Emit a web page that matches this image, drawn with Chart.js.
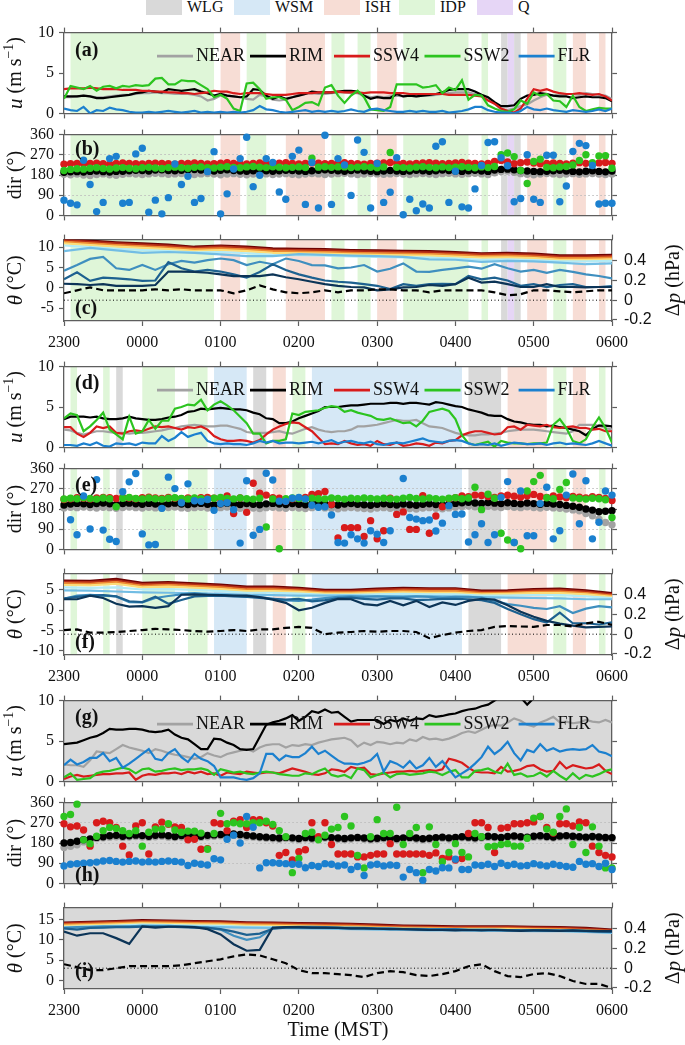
<!DOCTYPE html>
<html>
<head>
<meta charset="utf-8">
<script src="https://cdn.jsdelivr.net/npm/chart.js@4.4.1/dist/chart.umd.min.js"></script>
<style>
html, body { margin: 0; padding: 0; background: #fff; }
#fig { position: relative; width: 685px; height: 1045px; overflow: hidden; font-family: "Liberation Serif", "DejaVu Serif", serif; }
#fig canvas { position: absolute; left: 0; }
.rbox { position: absolute; top: 0; width: 36px; height: 15px; }
.rtxt { position: absolute; top: -1px; font-size: 16px; line-height: 16px; color: #111; }
</style>
</head>
<body>
<div id="fig"></div>
<script>
// sampling of the records (minutes between samples, 2300 = 0)
const STEP_FINE = 5;
const STEP_MID = 10;
const STEP_COARSE = 20;

const hourTicks = [0, 60, 120, 180, 240, 300, 360, 420];
const hourLabels = ['2300', '0000', '0100', '0200', '0300', '0400', '0500', '0600'];
const uTicks = [0, 5, 10];
const dirTicks = [0, 90, 180, 270, 360];
const dirGrid = [90, 180, 270];
const dpTicks = [-0.2, 0, 0.2, 0.4];

const stations = ['NEAR', 'RIM', 'SSW4', 'SSW2', 'FLR'];
const stationColors = ['#a2a2a2', '#000000', '#d81b1b', '#2cc41f', '#1b80cf'];

const regimeNames = ['WLG', 'WSM', 'ISH', 'IDP', 'Q'];
const regimeColors = ['#d9d9d9', '#d6e8f6', '#f7ddd5', '#dff6d8', '#e6d6f6'];

// [start, end, regime] in minutes after 2300
const regimes1 = [[5,115,3],[120,135,2],[140,155,3],[170,200,2],[205,215,3],[225,235,3],[240,255,2],[260,310,3],[320,325,3],[335,340,0],[340,345,4],[345,350,0],[355,370,2],[375,385,3],[390,400,2],[410,415,2]];
const regimes2 = [[5,10,3],[30,35,3],[40,45,0],[60,85,3],[95,110,3],[115,140,1],[145,155,0],[160,170,2],[175,185,3],[190,305,1],[310,335,0],[340,370,2],[375,385,3],[390,400,2],[410,415,3]];
const regimes3 = [[0,420,0]];

// ---------- (a) u, 5-min ----------
const uNearA = [2.0,2.0,2.1,2.2,2.1,2.0,2.0,2.1,2.2,2.3,2.3,2.4,2.5,2.5,2.6,2.5,2.5,2.4,2.4,2.4,2.3,2.1,1.6,1.8,2.2,2.2,2.1,2.0,1.8,1.7,2.3,2.1,1.7,1.6,1.7,2.0,2.3,2.4,2.5,2.4,2.4,2.5,2.6,2.6,2.5,2.5,2.2,2.0,2.1,2.0,2.1,2.2,2.1,2.2,2.1,2.2,2.2,2.3,2.4,2.5,2.6,2.6,2.6,2.4,2.2,1.8,1.2,0.5,0.4,0.6,0.9,1.1,1.6,2.0,2.3,2.2,2.3,2.4,2.4,2.3,2.5,2.4,2.3,2.2,1.8];
const uRimA = [2.1,2.1,2.1,2.2,2.1,1.9,1.9,2.0,2.1,2.2,2.3,2.5,2.6,2.8,2.7,2.6,3.0,2.9,2.8,2.9,3.0,2.7,2.5,2.2,2.4,2.2,2.1,2.0,2.1,3.0,2.9,2.2,1.8,2.1,1.8,2.0,2.2,2.4,2.7,2.6,2.6,2.6,2.7,2.8,2.8,2.7,2.2,1.8,2.0,1.9,1.9,2.4,2.1,2.2,2.1,2.2,2.3,2.4,2.6,2.9,3.0,3.0,3.0,2.7,2.3,2.0,1.4,0.9,0.9,1.0,1.8,2.2,2.3,2.5,2.4,2.2,2.1,2.1,1.9,2.0,2.1,2.0,2.0,1.9,1.5];
const uSsw4A = [3.0,3.1,3.1,3.1,3.2,3.1,3.0,3.0,3.0,2.9,2.9,2.9,2.8,2.8,2.7,2.7,2.6,2.6,2.5,2.5,2.4,2.5,2.6,2.8,2.7,2.7,2.5,2.4,2.5,2.5,2.5,2.4,2.3,2.3,2.3,2.4,2.5,2.5,2.5,2.6,2.6,2.6,2.7,2.6,2.6,2.6,2.5,2.6,2.6,2.6,2.5,2.5,2.5,2.4,2.4,2.4,2.4,2.4,2.4,2.3,2.3,2.3,2.3,2.2,2.1,1.6,1.2,0.6,0.3,0.1,0.6,1.8,3.0,2.8,3.0,2.7,2.5,2.4,2.4,2.5,2.4,2.3,2.4,2.1,1.6];
const uSsw2A = [1.8,3.4,3.2,3.0,3.4,2.8,3.3,3.4,3.1,3.4,3.3,3.5,3.4,3.5,4.3,4.4,3.6,3.6,4.1,4.0,4.0,3.5,3.0,2.0,2.3,1.8,0.6,0.3,3.7,3.8,3.0,1.8,2.0,2.0,1.7,0.4,0.8,1.3,1.4,1.0,3.2,3.5,2.2,1.3,2.2,2.8,2.0,0.5,0.4,0.3,0.8,3.6,3.6,3.6,3.6,3.2,3.3,3.5,2.5,3.2,2.9,4.1,1.7,2.3,2.2,1.0,0.6,0.3,0.2,0.5,1.6,1.2,2.6,2.2,2.4,1.6,1.5,0.8,2.2,0.8,0.3,0.5,0.7,0.6,0.6];
const uFlrA = [0.6,0.4,0.3,0.8,0.0,0.4,0.3,0.7,0.5,0.4,0.2,0.1,0.1,0.2,0.1,0.2,0.3,0.2,0.1,0.2,0.3,0.1,0.2,0.1,0.2,0.1,0.2,0.1,0.2,0.4,0.9,0.5,0.4,0.2,0.1,0.2,0.3,0.4,0.2,0.3,0.2,0.3,0.2,0.3,0.5,0.3,0.2,0.5,0.6,0.4,0.3,0.2,0.2,0.3,0.2,0.3,0.2,0.2,0.3,0.1,0.2,0.3,0.5,0.8,0.8,0.4,0.2,0.1,0.1,0.0,0.3,0.8,0.5,0.4,0.6,0.4,0.3,0.2,0.4,0.3,0.2,0.3,0.5,0.3,0.6];

// ---------- (b) dir, 5-min ----------
const dirNearB = [183,181,184,180,178,182,185,181,179,183,186,184,182,185,188,186,183,185,187,184,182,185,187,184,181,184,186,183,181,184,187,185,182,184,186,183,181,184,187,185,182,184,186,188,185,182,184,187,185,183,185,187,184,182,185,187,184,182,186,188,185,183,186,188,185,182,190,196,198,192,186,183,181,184,187,185,182,184,186,183,185,187,184,182,185];
const dirRimB = [192,194,195,193,196,198,195,193,196,197,199,201,200,198,202,203,200,199,201,203,204,202,200,198,201,203,200,198,197,199,201,199,197,199,201,200,198,196,199,201,203,201,199,197,200,202,199,197,195,198,200,198,196,198,201,199,197,199,202,200,198,196,199,201,198,196,202,205,206,203,200,198,196,195,197,199,201,198,196,194,197,199,196,194,198];
const dirSsw4B = [228,230,232,229,231,233,230,228,231,234,232,230,229,231,233,232,230,228,231,232,234,231,229,230,233,235,232,230,229,231,234,232,230,233,235,231,229,232,234,233,230,231,233,235,232,230,228,231,233,234,236,233,231,229,232,234,235,233,230,232,234,236,233,231,229,232,240,245,238,230,235,238,233,230,232,234,231,229,233,235,232,230,234,236,232];
const dirSsw2B = [200,205,208,206,210,212,209,207,211,213,210,208,212,214,211,209,213,215,212,210,214,216,213,211,215,217,214,212,216,218,215,213,217,215,212,214,216,213,255,215,217,214,216,216,213,215,217,214,212,216,280,214,213,211,215,217,214,212,216,213,215,217,214,212,216,213,218,270,278,262,200,142,240,250,214,212,216,218,225,245,270,235,265,266,210];
const dirFlrB = [68,54,47,246,138,17,58,253,263,54,58,274,299,14,68,7,79,229,138,174,58,75,195,284,7,96,207,253,348,128,179,253,236,104,72,263,291,49,236,33,357,49,253,225,89,336,281,33,231,58,103,257,3,72,21,51,33,308,328,58,197,38,33,118,222,325,328,257,221,61,75,270,72,58,268,268,61,131,285,321,311,222,51,54,54];

// ---------- (c) theta / dp ----------
const thDarkredC = [12.0,11.6,11.2,10.9,10.6,10.1,10.4,10.1,9.7,9.6,9.5,9.3,9.2,9.1,9.0,8.8,8.5,8.6,8.4,8.0,8.0,8.1];
const thRedC = [11.7,11.3,10.9,10.6,10.3,9.8,10.1,9.8,9.4,9.3,9.2,9.0,8.9,8.8,8.7,8.5,8.2,8.3,8.1,7.7,7.7,7.8];
const thOrangeC = [11.3,10.9,10.5,10.2,9.9,9.5,9.7,9.4,9.0,8.9,8.8,8.6,8.5,8.4,8.3,8.1,7.8,7.9,7.7,7.3,7.3,7.4];
const thYellowC = [10.9,10.5,10.1,9.8,9.5,9.1,9.3,9.0,8.6,8.5,8.4,8.2,8.1,8.0,7.9,7.7,7.4,7.5,7.3,6.9,6.9,7.0];
const thCyanC = [10.4,10.0,9.6,9.3,9.0,8.7,8.8,8.5,8.1,8.0,7.9,7.7,7.6,7.5,7.4,7.2,6.9,7.0,6.8,6.5,6.5,6.6];
const thSkyC = [9.0,9.8,9.2,8.6,8.8,8.6,8.2,7.8,7.8,8.3,8.1,7.9,7.8,7.6,7.0,6.9,6.4,6.6,6.5,6.2,5.8,6.0];
const thSteelC = [4.2,5.6,7.1,7.6,4.8,4.4,5.6,4.4,5.8,6.6,6.2,6.8,7.2,6.8,5.6,6.4,5.8,7.2,6.6,5.6,5.5,4.8,5.0,5.6,4.0,4.7,6.0,4.0,3.9,4.4,4.8,5.2,4.7,5.8,4.8,4.0,4.4,3.7,4.4,3.9,3.3,2.9,2.3];
const thDarkC = [2.1,3.8,1.7,2.5,2.3,2.1,1.7,1.8,6.3,4.8,4.0,4.4,4.0,3.3,2.5,3.9,5.8,4.4,3.3,2.5,1.8,1.5,1.3,0.9,0.5,-0.3,0.9,0.5,0.9,1.0,0.9,2.9,2.1,2.5,1.8,0.5,0.9,0.2,0.7,0.9,0.2,0.2,0.4];
const thNavyC = [1.0,0.9,0.7,0.9,0.5,0.5,0.5,0.7,4.0,4.0,3.9,3.7,3.3,2.9,2.9,2.9,3.3,2.6,2.1,1.5,0.9,0.5,0.2,0.1,-0.6,-0.4,0.1,0.2,0.7,0.5,0.9,2.5,1.3,1.5,0.9,0.2,0.2,0.9,0.2,0.2,0.1,0.2,0.2];
const dpC = [0.07,0.10,0.13,0.10,0.10,0.10,0.10,0.11,0.10,0.11,0.10,0.10,0.10,0.07,0.10,0.15,0.11,0.08,0.07,0.08,0.10,0.08,0.10,0.10,0.11,0.11,0.10,0.10,0.08,0.10,0.10,0.10,0.10,0.08,0.05,0.06,0.10,0.10,0.09,0.08,0.09,0.10,0.10];

// ---------- (d) u ----------
const uNearD = [2.2,2.1,1.8,1.6,1.8,2.0,2.0,1.9,1.8,1.8,1.7,1.8,1.8,1.9,2.0,2.1,2.3,2.4,2.6,2.7,2.8,2.7,2.6,2.6,2.7,2.7,2.5,2.3,1.9,1.8,1.8,1.8,1.9,2.0,1.8,1.7,2.0,2.3,2.5,2.2,2.0,1.9,2.0,2.0,2.2,2.6,2.6,2.7,2.8,3.0,3.2,3.4,3.3,3.3,3.4,3.0,2.6,2.5,2.4,2.1,1.8,1.6,1.5,1.5,1.6,1.6,1.7,1.8,2.0,2.1,2.2,2.2,2.2,2.1,2.0,1.9,1.8,1.7,2.0,2.8,2.8,2.8,2.7,2.4,2.2];
const uRimD = [3.5,3.8,3.8,3.8,3.7,3.8,3.6,3.5,3.5,3.6,3.8,3.6,3.5,3.4,3.4,3.5,3.7,3.8,4.0,4.4,4.5,4.8,4.7,4.8,4.9,4.8,4.7,4.7,4.6,4.3,4.1,3.6,3.5,3.0,3.0,3.2,3.6,3.9,4.2,4.5,5.0,5.0,5.0,5.1,5.2,5.2,5.3,5.4,5.4,5.4,5.5,5.5,5.4,5.5,5.5,5.4,5.3,5.6,5.5,5.3,5.1,5.0,4.7,4.5,4.3,4.0,3.9,3.9,3.5,3.2,3.1,2.9,2.8,2.8,2.6,2.7,2.5,2.4,2.2,2.0,1.5,2.3,2.7,2.7,2.6];
const uSsw4D = [2.5,2.5,1.7,1.3,1.8,2.6,2.4,2.6,1.8,1.7,2.0,2.1,2.0,2.3,2.6,2.5,2.6,2.4,2.2,2.5,2.4,2.6,2.2,1.4,1.0,0.8,0.8,0.9,0.8,0.6,0.9,1.6,2.2,2.6,2.9,3.1,3.0,2.5,2.0,1.2,0.4,0.5,0.4,0.8,0.5,0.3,0.4,0.2,0.8,0.4,0.3,0.6,0.2,0.3,0.5,0.4,0.2,0.6,0.5,0.8,0.9,1.5,1.8,2.0,2.0,1.8,1.6,1.7,2.5,2.6,2.2,2.8,2.7,2.6,2.8,2.5,2.4,2.5,2.6,2.4,2.4,2.2,2.3,2.0,2.0];
const uSsw2D = [3.6,4.2,4.0,2.0,2.6,3.4,4.3,2.2,1.6,1.0,3.8,1.7,2.0,3.4,2.3,3.3,3.3,4.8,5.0,5.3,5.2,5.9,4.6,5.3,5.7,5.2,4.6,3.8,3.0,1.7,1.7,0.5,0.8,0.8,1.0,4.2,4.0,4.4,4.5,4.6,4.9,5.1,5.0,4.4,4.6,4.3,4.1,3.9,3.5,3.4,3.6,3.3,3.0,3.1,2.6,3.3,4.4,4.6,4.8,4.5,3.5,1.5,0.5,0.3,0.5,0.7,0.1,0.8,0.6,0.5,0.5,0.4,0.5,0.5,0.6,2.8,3.5,2.4,0.8,0.5,1.0,2.5,3.7,2.4,0.6];
const uFlrD = [0.3,0.3,0.2,0.5,0.3,0.6,0.2,0.1,0.5,0.4,0.5,0.3,0.6,0.5,0.5,1.4,0.8,1.2,1.9,1.3,1.6,1.8,0.8,0.5,0.4,0.5,0.4,0.4,0.3,0.5,0.8,0.6,0.8,0.5,0.6,0.6,0.5,0.6,0.7,0.5,0.7,0.9,0.5,0.7,0.8,0.6,0.5,0.7,0.4,0.3,0.5,0.6,0.5,0.7,0.9,1.1,0.8,0.7,0.6,0.8,0.9,0.8,0.5,0.3,0.4,0.3,0.5,0.2,0.4,0.6,0.5,0.4,0.4,0.5,0.3,0.5,0.6,0.4,0.5,0.4,0.3,0.5,0.8,0.5,0.2];

// ---------- (e) dir ----------
const dirNearE = [185,188,186,189,187,184,188,186,183,187,189,186,184,188,185,183,187,189,185,183,186,188,184,182,186,189,185,183,187,184,182,186,188,185,183,187,184,182,186,189,185,183,181,185,187,184,182,180,184,186,183,181,185,182,180,184,186,183,181,185,188,191,193,190,188,192,189,187,191,188,186,190,187,184,188,185,183,180,176,172,160,150,135,120,110];
const dirRimE = [198,202,205,203,200,204,207,203,200,204,206,203,201,205,202,199,203,206,202,200,203,205,201,199,203,206,202,200,204,201,199,203,205,202,200,204,201,199,203,206,202,200,198,202,204,201,199,197,201,203,200,198,202,199,197,201,203,200,198,202,205,208,210,207,205,209,206,204,208,205,203,207,204,201,205,202,200,196,192,188,180,175,168,170,172];
const dirSsw4E = [222,226,230,228,225,229,232,230,227,231,229,226,230,233,229,227,231,228,226,229,227,230,232,228,226,238,160,229,165,295,250,242,230,228,215,226,229,232,245,248,258,200,51,97,97,97,58,128,47,83,228,156,167,89,89,239,72,149,190,226,230,238,235,242,240,236,232,238,241,237,233,239,245,236,232,238,234,230,236,233,229,235,231,227,218];
const dirSsw2E = [225,228,226,230,227,224,229,226,190,228,231,227,225,229,226,224,228,230,227,225,229,226,224,228,231,227,225,229,226,224,228,100,225,3,226,229,227,224,228,226,225,229,227,224,228,226,229,227,225,228,226,224,228,231,227,225,229,226,224,228,230,226,229,277,177,246,228,72,42,31,3,260,302,330,230,226,267,298,229,227,224,228,226,221,142];
const dirFlrE = [null,132,65,238,91,311,86,45,35,257,301,338,69,20,22,183,322,271,208,292,217,214,222,174,204,208,177,28,306,63,89,339,309,215,214,228,232,225,197,188,190,153,31,28,65,47,28,83,68,31,83,null,316,142,135,128,131,82,117,195,156,158,33,65,114,31,65,232,302,31,260,61,61,204,277,47,83,242,336,114,306,47,121,260,242];

// ---------- (f) theta / dp ----------
const thDarkredF = [7.3,7.2,7.7,6.7,6.9,6.6,6.3,5.8,5.8,5.5,5.0,5.0,5.3,5.5,5.4,5.4,4.8,4.9,5.2,5.3,4.9,4.2];
const thRedF = [7.0,6.9,7.3,6.4,6.6,6.3,6.0,5.5,5.5,5.2,4.7,4.7,5.0,5.2,5.1,5.1,4.5,4.6,4.9,5.0,4.6,3.9];
const thOrangeF = [6.6,6.5,6.9,6.0,6.2,5.9,5.6,5.1,5.1,4.8,4.4,4.4,4.6,4.8,4.7,4.7,4.2,4.3,4.5,4.6,4.2,3.6];
const thYellowF = [6.2,6.1,6.5,5.6,5.8,5.5,5.2,4.7,4.7,4.5,4.1,4.1,4.3,4.4,4.3,4.3,3.9,4.0,4.2,4.2,3.9,3.3];
const thCyanF = [5.6,5.5,5.6,5.1,5.2,5.0,4.7,4.3,4.3,4.1,3.8,3.8,3.9,4.0,3.9,3.9,3.6,3.6,3.7,3.7,3.4,3.0];
const thSkyF = [4.9,4.8,4.6,4.4,4.3,4.2,4.0,3.8,3.7,3.6,3.6,3.6,3.5,3.5,3.5,3.4,3.2,3.1,3.0,2.9,2.7,2.7];
const thSteelF = [2.8,3.6,3.8,3.6,3.4,2.0,1.9,3.0,3.5,3.9,4.2,3.8,3.7,3.6,3.4,3.2,2.8,2.4,2.3,2.6,3.0,3.3,3.4,3.3,3.4,3.3,3.2,3.4,3.3,3.1,3.3,3.3,3.1,2.3,1.5,1.1,0.6,0.3,1.0,-0.7,0.4,1.0,0.7];
const thDarkF = [2.9,3.3,3.6,3.7,3.4,2.2,2.0,3.3,1.6,2.5,3.4,3.5,3.6,3.4,3.3,3.0,2.8,2.6,2.8,2.2,2.5,2.9,3.1,2.8,2.6,2.9,2.9,2.5,2.6,2.8,2.8,2.7,2.5,1.8,0.3,-1.0,-2.2,-3.0,-0.6,-3.2,-3.2,-3.5,-3.0];
const thNavyF = [2.7,2.7,3.6,3.0,1.6,0.9,1.0,0.6,1.0,3.8,3.9,3.8,3.7,3.6,3.6,3.2,2.6,1.8,0.0,0.6,1.8,2.8,2.7,1.5,1.2,2.3,1.2,2.3,0.8,1.9,1.3,2.3,2.8,2.6,1.2,-0.4,-1.6,-2.6,-3.3,-3.8,-4.2,-4.1,-4.0];
const dpF = [0.042,0.048,0.016,0.016,0.022,0.032,0.042,0.054,0.048,0.042,0.032,0.025,0.032,0.042,0.032,0.048,0.048,0.064,0.074,0.064,0.0,0.016,0.022,0.032,0.025,0.032,0.032,0.022,-0.04,-0.01,0.016,0.032,0.042,0.074,0.083,0.078,0.074,0.093,0.093,0.078,0.11,0.126,0.093];

// ---------- (g) u ----------
const uNearG = [2.1,2.0,2.0,1.8,2.6,3.7,3.6,3.5,4.0,4.5,4.2,4.0,3.8,3.5,4.0,3.8,3.5,3.3,3.2,3.0,2.8,3.0,3.5,3.2,3.0,3.4,3.6,3.8,4.0,3.7,4.2,4.5,4.6,4.6,4.2,4.5,4.4,4.6,4.5,4.8,5.0,5.2,5.3,5.4,5.1,4.3,4.8,4.5,4.9,4.8,4.6,4.8,4.7,5.2,5.0,5.5,5.2,5.3,5.1,5.3,5.6,6.0,6.2,6.0,6.4,6.8,7.0,6.9,7.3,7.8,7.5,7.0,6.8,7.3,7.6,8.0,7.3,7.4,7.2,7.3,7.6,7.4,7.3,7.6,7.3];
const uRimG = [4.6,4.7,4.8,5.1,5.4,5.6,6.0,6.5,6.4,6.4,6.5,6.5,6.4,6.2,6.1,6.2,6.4,5.8,5.4,5.2,4.6,4.0,4.0,5.3,5.2,4.8,4.5,4.0,3.9,4.0,5.5,7.0,7.3,7.5,7.8,8.2,7.5,8.0,8.7,8.5,8.9,8.5,8.6,8.0,7.4,7.6,7.6,7.6,7.6,7.1,7.6,7.4,7.8,7.5,7.8,7.7,8.2,8.0,8.1,8.3,8.4,8.7,8.9,9.0,9.3,9.5,10.0,10.6,11.0,11.2,10.4,9.5,10.3,11.0,11.5,11.8,12.0,12.0,12.0,12.0,12.0,12.0,12.0,12.0,12.0];
const uSsw4G = [0.3,0.6,0.8,0.6,0.7,0.8,0.9,0.9,1.0,1.0,1.1,0.2,0.7,0.9,0.8,1.0,1.0,1.1,0.9,1.2,1.0,1.2,0.9,1.0,0.7,1.1,1.0,0.9,1.2,1.1,1.0,1.1,1.1,1.0,1.3,1.6,1.4,1.2,0.9,0.8,1.0,1.5,1.4,1.2,1.8,1.6,1.7,0.9,0.8,1.0,1.1,1.2,1.2,1.3,1.2,1.3,1.4,1.3,1.5,2.8,2.6,2.3,1.7,1.2,1.1,1.1,1.0,1.8,1.2,1.3,1.5,1.9,2.0,1.5,1.2,1.3,2.4,1.6,2.0,1.8,1.6,1.7,2.1,1.3,0.9];
const uSsw2G = [0.5,1.0,0.2,0.3,0.4,1.0,1.2,1.3,1.5,1.7,1.5,1.0,1.5,1.6,1.2,1.3,1.5,1.6,1.4,1.5,1.5,1.6,1.4,0.8,1.5,1.3,1.1,1.2,1.0,0.9,1.1,1.2,1.1,0.9,0.8,0.7,0.7,1.0,0.9,1.3,1.6,0.8,0.6,0.8,0.4,1.6,1.4,0.5,0.8,1.1,0.5,0.9,1.0,0.8,0.9,1.0,1.2,1.1,0.8,1.2,1.4,0.5,0.5,1.3,1.4,1.6,1.2,1.0,2.2,0.8,1.0,0.6,0.7,1.1,0.6,1.3,0.7,0.2,1.0,0.3,0.8,0.6,0.9,1.3,1.5];
const uFlrG = [2.0,2.7,2.1,2.4,2.9,2.9,3.5,2.5,2.9,1.7,2.2,2.8,3.4,4.0,2.8,2.6,3.5,4.0,3.0,2.4,3.4,2.8,2.5,1.9,0.5,0.5,0.5,0.3,0.2,0.4,1.0,3.4,3.4,2.6,3.2,3.0,3.0,3.5,4.3,3.4,3.8,3.2,2.6,2.2,2.2,2.1,2.3,2.6,3.4,1.2,2.5,2.2,1.7,2.5,1.6,2.0,2.9,1.8,2.5,1.5,0.5,1.0,1.5,2.2,3.0,4.3,3.4,4.0,4.9,3.5,2.6,3.9,3.6,4.6,3.8,4.1,3.7,3.9,4.0,3.9,4.0,4.5,3.7,3.5,3.1];

// ---------- (h) dir ----------
const dirNearH = [160,165,172,185,192,200,203,206,208,205,207,209,207,205,208,210,206,204,207,209,206,205,208,210,212,210,214,212,208,206,203,201,199,197,200,198,195,199,197,200,202,199,197,195,198,200,197,194,196,199,197,195,198,200,197,194,196,199,201,198,200,203,201,198,202,205,203,200,204,206,203,201,205,207,204,202,206,208,205,203,201,204,202,200,199];
const dirRimH = [180,182,188,195,198,205,208,212,214,210,212,215,213,210,214,216,212,209,213,215,212,210,214,216,218,215,220,218,214,211,208,206,204,202,205,203,200,204,202,205,207,204,202,200,203,205,202,199,201,204,202,200,203,205,202,199,201,204,206,203,205,208,206,203,207,210,208,205,209,211,208,206,210,212,209,207,211,213,210,208,206,209,207,205,204];
const dirSsw4H = [266,252,256,238,166,270,277,270,249,166,127,256,270,131,252,273,263,252,249,194,197,152,155,270,266,235,277,284,249,284,284,270,256,125,138,104,141,150,270,208,270,173,131,131,131,118,118,125,131,131,177,131,131,131,131,131,125,136,111,118,104,111,222,270,270,249,138,246,249,266,266,270,274,298,249,224,266,266,256,274,270,166,138,125,118];
const dirSsw2H = [298,307,353,194,177,210,235,249,245,235,222,235,166,228,242,242,266,238,228,233,233,224,152,222,312,266,270,266,266,270,270,277,263,235,208,48,111,222,228,194,215,242,249,298,256,125,69,208,284,222,222,339,173,222,249,48,252,173,97,138,177,138,118,222,208,163,166,173,177,166,166,201,291,298,242,228,298,332,173,249,138,252,166,69,69];
const dirFlrH = [78,85,88,90,92,95,100,102,98,95,98,100,95,97,95,98,100,98,95,80,90,85,82,110,105,197,215,180,298,250,69,92,92,90,88,85,85,70,80,75,88,85,78,82,62,75,35,82,85,78,82,80,28,62,48,14,62,55,70,69,108,62,62,82,80,85,75,90,80,85,78,80,88,82,78,85,80,75,72,98,85,88,75,90,62];

// ---------- (i) theta / dp ----------
const thDarkredI = [14.2,14.4,14.6,14.8,14.7,14.6,14.5,14.3,14.2,14.1,14.0,13.9,13.7,13.5,13.4,13.3,13.3,13.3,13.2,13.1,12.9,12.5];
const thRedI = [14.0,14.2,14.4,14.6,14.5,14.4,14.3,14.1,14.0,13.9,13.8,13.7,13.5,13.3,13.2,13.1,13.1,13.1,13.0,12.9,12.7,12.3];
const thOrangeI = [13.7,13.9,14.1,14.3,14.2,14.1,14.0,13.8,13.7,13.6,13.5,13.4,13.2,13.0,12.9,12.8,12.8,12.8,12.7,12.6,12.4,12.1];
const thYellowI = [13.4,13.6,13.8,14.0,13.9,13.8,13.7,13.5,13.4,13.3,13.2,13.1,12.9,12.8,12.7,12.6,12.6,12.6,12.5,12.4,12.2,11.9];
const thCyanI = [13.1,13.3,13.5,13.7,13.6,13.5,13.4,13.2,13.1,13.0,12.9,12.8,12.7,12.6,12.5,12.4,12.4,12.4,12.3,12.2,12.0,11.8];
const thSkyI = [12.8,13.0,13.2,13.4,13.3,13.2,13.1,13.0,12.9,12.8,12.7,12.6,12.5,12.4,12.3,12.3,12.2,12.2,12.1,12.1,11.9,11.7];
const thSteelI = [13.0,13.1,13.2,13.3,13.3,13.3,13.4,13.4,13.4,13.3,13.2,13.0,12.5,11.0,10.0,10.6,12.8,13.1,13.2,13.2,13.1,13.0,13.0,12.9,12.8,12.8,12.7,12.7,12.6,12.6,12.6,12.5,12.5,12.5,12.4,12.4,12.4,12.3,12.3,12.3,12.2,12.1,12.0];
const thDarkI = [12.8,12.5,12.9,13.0,13.1,13.1,13.2,13.2,13.2,13.1,13.0,12.9,12.6,12.0,11.2,11.5,12.7,13.0,13.0,13.0,12.9,12.9,12.8,12.8,12.7,12.7,12.6,12.6,12.5,12.5,12.5,12.4,12.4,12.4,12.3,12.3,12.3,12.2,12.2,12.2,12.1,12.0,11.9];
const thNavyI = [12.0,11.0,11.6,11.6,10.4,9.0,13.3,13.0,13.2,13.2,13.1,12.6,11.3,8.9,7.3,7.5,13.0,13.1,13.1,13.0,13.0,12.9,12.8,12.8,12.7,12.6,12.6,12.5,12.4,12.4,12.3,12.4,12.3,12.4,12.3,12.2,12.3,12.3,12.2,12.3,12.2,12.1,12.1];
const dpI = [0.04,0.01,-0.02,-0.02,0.0,0.02,0.02,0.02,0.02,0.03,0.05,0.07,0.09,0.12,0.14,0.13,0.09,0.05,-0.02,-0.05,-0.05,-0.06,-0.07,-0.09,-0.05,-0.03,-0.04,-0.07,-0.08,-0.06,-0.03,0.02,0.04,-0.03,-0.08,-0.09,-0.06,-0.05,-0.08,-0.13,-0.16,-0.16,-0.20];
const dpZeroT = [0, 420];
const dpZeroV = [0, 0];

// ---------- styling ----------
const SERIF = '"Liberation Serif", "DejaVu Serif", serif';
const SANS = '"Liberation Sans", "DejaVu Sans", sans-serif';
const FRAME = '#5e5e5e';
const INK = '#111';
const PANEL_H = 86;
const thetaColors = ['#6e0303', '#b52d16', '#ee8a32', '#fddc78', '#b3ebf5', '#72bde4', '#3f8fbf', '#1d6190', '#0c3457'];

Chart.defaults.font.family = SERIF;
Chart.defaults.color = INK;

function pts(arr, step) {
  return arr.map((v, i) => ({x: i * step, y: v}));
}

function lineSet(label, data, color, order, extra) {
  return Object.assign({
    label, data, borderColor: color, backgroundColor: color, borderWidth: 2.2,
    pointRadius: 0, tension: 0, fill: false, order, xAxisID: 'x', yAxisID: 'y'
  }, extra || {});
}

function dotSet(label, arr, color, order) {
  return {
    label, data: pts(arr, STEP_FINE), showLine: false, pointRadius: 3.7, pointHoverRadius: 3.7,
    pointBorderWidth: 0, pointBackgroundColor: color, borderColor: color, backgroundColor: color,
    order, clip: false, xAxisID: 'x', yAxisID: 'y'
  };
}

function uSets(series) {
  return series.map((arr, i) => lineSet(stations[i], pts(arr, STEP_FINE), stationColors[i], 4 - i));
}

function dirSets(series) {
  return series.map((arr, i) => dotSet(stations[i], arr, stationColors[i], 4 - i));
}

function thetaSets(t) {
  const coarse = [t.darkred, t.red, t.orange, t.yellow, t.cyan, t.sky];
  const mid = [t.steel, t.dark, t.navy];
  const sets = [];
  coarse.forEach((arr, i) => sets.push(lineSet('theta' + i, pts(arr, STEP_COARSE), thetaColors[i], 20 - i)));
  mid.forEach((arr, i) => sets.push(lineSet('theta' + (i + 6), pts(arr, STEP_MID), thetaColors[i + 6], 10 - i)));
  sets.push(lineSet('zero', dpZeroT.map((x, i) => ({x, y: dpZeroV[i]})), '#000', 1,
    {yAxisID: 'y1', borderWidth: 1, borderDash: [1, 2.5]}));
  sets.push(lineSet('dp', pts(t.dp, STEP_MID), '#000', 0, {yAxisID: 'y1', borderWidth: 2.2, borderDash: [7, 4]}));
  return sets;
}

function xAxis(pos, labels, height) {
  return {
    type: 'linear', axis: 'x', position: pos, min: 0, max: 420,
    afterBuildTicks: s => { s.ticks = hourTicks.map(v => ({value: v})); },
    afterFit: s => { s.height = height; },
    grid: {drawOnChartArea: false, drawTicks: true, tickLength: 5, tickColor: FRAME, tickWidth: 1.2},
    border: {display: true, color: FRAME, width: 1.3},
    ticks: {
      display: labels, padding: 7, color: INK, maxRotation: 0, autoSkip: false,
      font: {family: SERIF, size: 16},
      callback: v => hourLabels[hourTicks.indexOf(v)]
    }
  };
}

function yAxis(pos, min, max, ticks, opts) {
  const o = opts || {};
  return {
    type: 'linear', axis: 'y', position: pos, min, max,
    afterBuildTicks: s => { s.ticks = ticks.map(v => ({value: v})); },
    afterFit: s => { s.width = pos === 'left' ? 64 : 73; },
    grid: {
      drawOnChartArea: !!o.grid, lineWidth: 1,
      color: c => (o.grid && c.tick && o.grid.includes(c.tick.value)) ? '#bdbdbd' : 'rgba(0,0,0,0)',
      drawTicks: true, tickLength: 5, tickColor: FRAME, tickWidth: 1.2
    },
    border: {display: true, color: FRAME, width: 1.3, dash: o.grid ? [1.5, 2.5] : []},
    ticks: {
      display: o.labels !== false, autoSkip: false, color: INK, padding: pos === 'left' ? 5 : 7,
      font: {family: o.sans ? SANS : SERIF, size: 16},
      callback: o.fmt || (v => String(v))
    }
  };
}

// regime shading behind each panel
const shadePlugin = {
  id: 'shade',
  beforeDraw(chart, args, o) {
    const {ctx, chartArea: a, scales: {x}} = chart;
    ctx.save();
    o.list.forEach(([s, e, r]) => {
      const x0 = x.getPixelForValue(s);
      const x1 = x.getPixelForValue(e);
      ctx.fillStyle = regimeColors[r];
      ctx.fillRect(x0, a.top, x1 - x0, a.bottom - a.top);
    });
    ctx.restore();
  }
};

function drawParts(ctx, parts, cx, cy, rot) {
  ctx.save();
  ctx.translate(cx, cy);
  ctx.rotate(rot);
  let w = 0;
  parts.forEach(p => { ctx.font = p[1]; w += ctx.measureText(p[0]).width; });
  let x = -w / 2;
  ctx.textBaseline = 'middle';
  ctx.textAlign = 'left';
  parts.forEach(p => {
    ctx.font = p[1];
    ctx.fillText(p[0], x, p[2] || 0);
    x += ctx.measureText(p[0]).width;
  });
  ctx.restore();
}

const TF = '20px ' + SERIF;
const TI = 'italic 21px ' + SERIF;
const titleU = [['u', TI], [' (m s', TF], ['\u22121', '14px ' + SERIF, -7], [')', TF]];
const titleDir = [['dir (\u00b0)', TF]];
const titleTheta = [['\u03b8', TI], [' (\u00b0C)', TF]];
const titleDp = [['\u0394', TF], ['p', TI], [' (hPa)', TF]];
const legendLineX = [157, 250, 334, 424.5, 518.6];

const textPlugin = {
  id: 'panelText',
  afterDraw(chart, args, o) {
    const {ctx, chartArea: a} = chart;
    const mid = (a.top + a.bottom) / 2;
    ctx.save();
    ctx.fillStyle = INK;
    ctx.strokeStyle = INK;
    // panel letter
    ctx.font = 'bold 20px ' + SERIF;
    ctx.textBaseline = 'middle';
    ctx.textAlign = 'left';
    ctx.fillText(o.letter, 75, o.letterY > 0 ? a.top + o.letterY : a.bottom + o.letterY);
    // axis titles
    drawParts(ctx, o.title, 16, mid, -Math.PI / 2);
    if (o.rightTitle) drawParts(ctx, o.rightTitle, 674, mid, -Math.PI / 2);
    // station legend
    if (o.legend) {
      const y = a.top + 23.5;
      ctx.font = '18px ' + SERIF;
      stations.forEach((name, i) => {
        ctx.strokeStyle = stationColors[i];
        ctx.lineWidth = 2.6;
        ctx.beginPath();
        ctx.moveTo(legendLineX[i], y);
        ctx.lineTo(legendLineX[i] + 36, y);
        ctx.stroke();
        ctx.fillStyle = INK;
        ctx.fillText(name, legendLineX[i] + 39, y + 0.5);
      });
    }
    if (o.timeTitle) {
      ctx.font = TF;
      ctx.textAlign = 'center';
      ctx.fillStyle = INK;
      ctx.fillText('Time (MST)', (a.left + a.right) / 2, a.bottom + 42);
    }
    ctx.restore();
  }
};

const panels = [
  {top: 30, kind: 'u', letter: '(a)', letterY: 18, reg: regimes1, series: [uNearA, uRimA, uSsw4A, uSsw2A, uFlrA]},
  {top: 132, kind: 'dir', letter: '(b)', letterY: 15, reg: regimes1, series: [dirNearB, dirRimB, dirSsw4B, dirSsw2B, dirFlrB]},
  {top: 235, kind: 'theta', letter: '(c)', letterY: -12, reg: regimes1, range: [-8.15, 11.85], yt: [-5, 0, 5, 10], bottomH: 40,
    th: {darkred: thDarkredC, red: thRedC, orange: thOrangeC, yellow: thYellowC, cyan: thCyanC, sky: thSkyC, steel: thSteelC, dark: thDarkC, navy: thNavyC, dp: dpC}},
  {top: 364, kind: 'u', letter: '(d)', letterY: 17, reg: regimes2, series: [uNearD, uRimD, uSsw4D, uSsw2D, uFlrD]},
  {top: 466, kind: 'dir', letter: '(e)', letterY: 17, reg: regimes2, series: [dirNearE, dirRimE, dirSsw4E, dirSsw2E, dirFlrE]},
  {top: 569, kind: 'theta', letter: '(f)', letterY: -12, reg: regimes2, range: [-11, 9], yt: [-10, -5, 0, 5], bottomH: 40,
    th: {darkred: thDarkredF, red: thRedF, orange: thOrangeF, yellow: thYellowF, cyan: thCyanF, sky: thSkyF, steel: thSteelF, dark: thDarkF, navy: thNavyF, dp: dpF}},
  {top: 698, kind: 'u', letter: '(g)', letterY: 17, reg: regimes3, series: [uNearG, uRimG, uSsw4G, uSsw2G, uFlrG]},
  {top: 800, kind: 'dir', letter: '(h)', letterY: -8, reg: regimes3, series: [dirNearH, dirRimH, dirSsw4H, dirSsw2H, dirFlrH]},
  {top: 903, kind: 'theta', letter: '(i)', letterY: -17, reg: regimes3, range: [-2.1, 17.9], yt: [0, 5, 10, 15], bottomH: 56, timeTitle: true,
    th: {darkred: thDarkredI, red: thRedI, orange: thOrangeI, yellow: thYellowI, cyan: thCyanI, sky: thSkyI, steel: thSteelI, dark: thDarkI, navy: thNavyI, dp: dpI}}
];

const fig = document.getElementById('fig');

// regime legend along the top
const regimeBoxX = [146, 234, 324, 399, 477];
regimeNames.forEach((name, i) => {
  const b = document.createElement('div');
  b.className = 'rbox';
  b.style.left = regimeBoxX[i] + 'px';
  b.style.background = regimeColors[i];
  fig.appendChild(b);
  const t = document.createElement('div');
  t.className = 'rtxt';
  t.style.left = (regimeBoxX[i] + 41) + 'px';
  t.textContent = name;
  fig.appendChild(t);
});

panels.forEach(p => {
  const bottomH = p.bottomH || 12;
  const cv = document.createElement('canvas');
  cv.width = 685;
  cv.height = 12 + PANEL_H + bottomH;
  cv.style.top = (p.top - 12) + 'px';
  fig.appendChild(cv);

  let datasets, y, y1, title, rightTitle = null;
  if (p.kind === 'u') {
    datasets = uSets(p.series);
    y = yAxis('left', 0, 10, uTicks);
    y1 = yAxis('right', 0, 10, uTicks, {labels: false});
    title = titleU;
  } else if (p.kind === 'dir') {
    datasets = dirSets(p.series);
    y = yAxis('left', 0, 360, dirTicks, {grid: dirGrid});
    y1 = yAxis('right', 0, 360, dirTicks, {labels: false});
    title = titleDir;
  } else {
    datasets = thetaSets(p.th);
    y = yAxis('left', p.range[0], p.range[1], p.yt);
    y1 = yAxis('right', -0.211, 0.614, dpTicks, {sans: true, fmt: v => (v === 0 ? '0' : v.toFixed(1))});
    title = titleTheta;
    rightTitle = titleDp;
  }

  new Chart(cv, {
    type: 'line',
    data: {datasets},
    options: {
      responsive: false,
      animation: false,
      devicePixelRatio: 1,
      events: [],
      layout: {padding: 0},
      scales: {
        x: xAxis('bottom', !!p.bottomH, bottomH),
        xTop: xAxis('top', false, 12),
        y, y1
      },
      plugins: {
        legend: {display: false},
        tooltip: {enabled: false},
        shade: {list: p.reg},
        panelText: {letter: p.letter, letterY: p.letterY, title, rightTitle, legend: p.kind === 'u', timeTitle: !!p.timeTitle}
      }
    },
    plugins: [shadePlugin, textPlugin]
  });
});
</script>
</body>
</html>
